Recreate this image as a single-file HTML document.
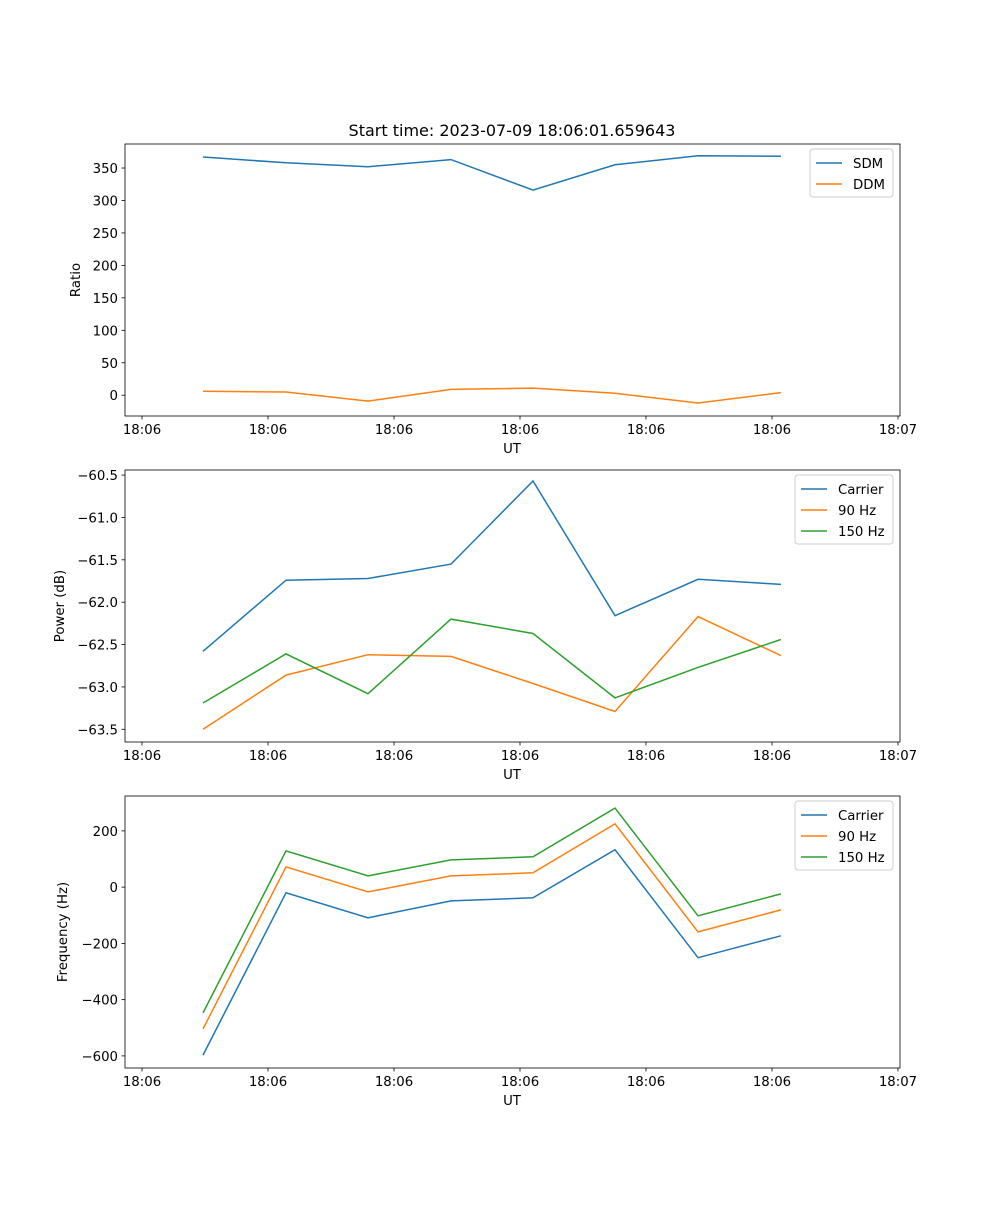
<!DOCTYPE html>
<html><head><meta charset="utf-8"><style>
body{margin:0;background:#fff}
svg text{font-family:"DejaVu Sans","Liberation Sans",sans-serif;font-size:13.3px;fill:#000}
</style></head><body>
<svg id="fig" width="1000" height="1200" xmlns="http://www.w3.org/2000/svg">
<rect width="1000" height="1200" fill="#fff"/>
<text x="512" y="136" text-anchor="middle" style="font-size:16px">Start time: 2023-07-09 18:06:01.659643</text>
</svg>
<script>
const xTickLabels = ["18:06","18:06","18:06","18:06","18:06","18:06","18:07"];
const xTimes = [0.484,1.143,1.794,2.452,3.103,3.754,4.413,5.071];
const sdm = [367,358,352,363,316,355,369,368];
const ddm = [6,5,-9,9,11,3,-12,4];
const powCarrier = [-62.58,-61.74,-61.72,-61.55,-60.57,-62.16,-61.73,-61.79];
const pow90 = [-63.5,-62.86,-62.62,-62.64,-62.96,-63.29,-62.17,-62.63];
const pow150 = [-63.19,-62.61,-63.08,-62.2,-62.37,-63.13,-62.77,-62.44];
const freqCarrier = [-597,-20,-109,-49,-38,133,-251,-173];
const freq90 = [-504,72,-17,40,51,225,-159,-81];
const freq150 = [-447,129,40,97,108,281,-102,-24];
const ticks1 = [0,50,100,150,200,250,300,350];
const ticks2 = [-63.5,-63.0,-62.5,-62.0,-61.5,-61.0,-60.5];
const ticks3 = [-600,-400,-200,0,200];

const NS="http://www.w3.org/2000/svg";
const svg=document.getElementById('fig');
function mk(tag,attrs,parent){const e=document.createElementNS(NS,tag);for(const k in attrs)e.setAttribute(k,attrs[k]);(parent||svg).appendChild(e);return e;}
const colors=["#1f77b4","#ff7f0e","#2ca02c"];
const X0=125,X1=900,xmin=-0.135,xmax=6.016;
const xs=v=>X0+(v-xmin)/(xmax-xmin)*(X1-X0);

function panel(name,top,bot,ymin,ymax,yticks,fmt,ylabel,series,labels,legend){
  const g=mk('g',{});
  
  
  const ys=v=>bot-(v-ymin)/(ymax-ymin)*(bot-top);
  series.forEach((s,i)=>{
    const p=mk('polyline',{points:s.map((v,j)=>xs(xTimes[j]).toFixed(1)+','+ys(v).toFixed(1)).join(' '),fill:'none',stroke:colors[i],'stroke-width':1.5},g);
    
    
  });
  const fr=mk('rect',{x:X0,y:top,width:X1-X0,height:bot-top,fill:'none',stroke:'#000','stroke-width':0.8},g);
  
  
  xTickLabels.forEach((l,i)=>{const x=xs(i);
    mk('line',{x1:x,x2:x,y1:bot,y2:bot+3.5,stroke:'#000','stroke-width':0.8},g);
    const t=mk('text',{x:x,y:bot+18,'text-anchor':'middle'},g);t.textContent=l;
    
    });
  yticks.forEach(v=>{const y=ys(v);
    mk('line',{x1:X0-3.5,x2:X0,y1:y,y2:y,stroke:'#000','stroke-width':0.8},g);
    const t=mk('text',{x:X0-7,y:y+5,'text-anchor':'end'},g);t.textContent=fmt(v).replace('-','\u2212');
    
    });
  const xl=mk('text',{x:512,y:bot+37,'text-anchor':'middle'},g);xl.textContent='UT';
  
  
  const yl=mk('text',{x:0,y:0,'text-anchor':'middle',transform:`translate(${legend.yx},${(top+bot)/2}) rotate(-90)`},g);yl.textContent=ylabel;
  
  
  const lg=mk('g',{},g);
  
  
  mk('rect',{x:legend.x,y:top+5,width:893-legend.x,height:labels.length*21+6,rx:3,fill:'#fff',stroke:'#ccc','stroke-width':1},lg);
  labels.forEach((l,i)=>{const y=top+19+i*21;
    mk('line',{x1:legend.x+6,x2:legend.x+32,y1:y,y2:y,stroke:colors[i],'stroke-width':1.5},lg);
    const t=mk('text',{x:legend.x+43,y:y+5},lg);t.textContent=l;
    
    });
}
panel('ratio',144,416,-32,387,ticks1,v=>String(v),'Ratio',[sdm,ddm],['SDM','DDM'],{x:810,yx:80});
panel('power',470,742,-63.65,-60.44,ticks2,v=>v.toFixed(1),'Power (dB)',[powCarrier,pow90,pow150],['Carrier','90 Hz','150 Hz'],{x:795,yx:64});
panel('frequency',796,1068,-643,324,ticks3,v=>String(v),'Frequency (Hz)',[freqCarrier,freq90,freq150],['Carrier','90 Hz','150 Hz'],{x:795,yx:67});
</script>
</body></html>
